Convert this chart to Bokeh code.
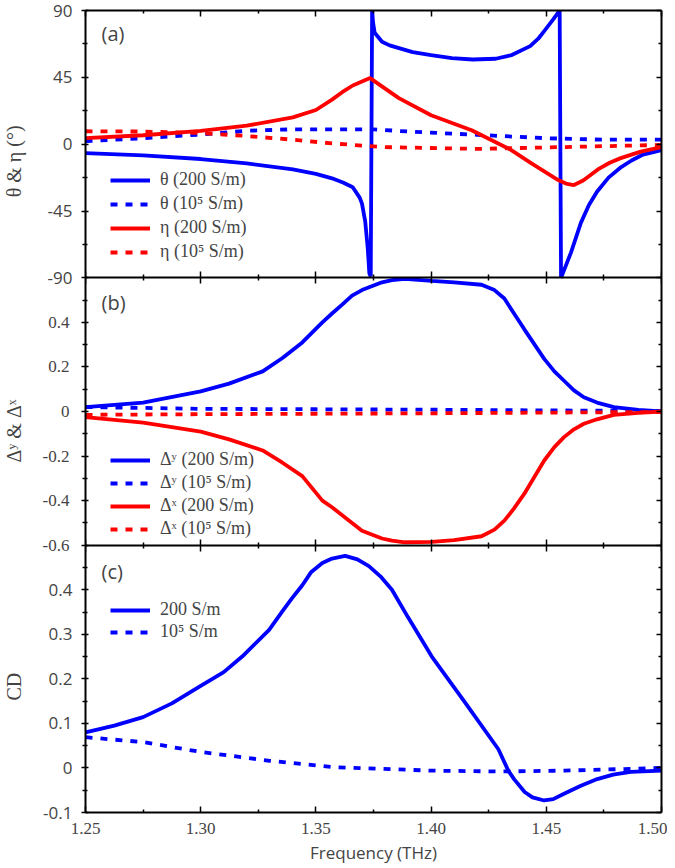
from bokeh.plotting import figure
from bokeh.models import (LinearAxis, FixedTicker, NumeralTickFormatter, Legend, LegendItem,
                          Label, Range1d, CustomJSTickFormatter)
from bokeh.embed import file_html
from bokeh.resources import INLINE

# ---------------- data ----------------
# panel (a): theta & eta (degrees)
theta200_f = [1.250, 1.275, 1.300, 1.320, 1.340, 1.350, 1.357, 1.362, 1.366, 1.369, 1.3700, 1.3714,
              1.3725, 1.3732, 1.3738, 1.3744, 1.3748, 1.3755, 1.3787, 1.382, 1.392, 1.400, 1.409,
              1.418, 1.428, 1.435, 1.443, 1.4465, 1.449, 1.451, 1.453, 1.4558, 1.4564, 1.4607,
              1.465, 1.4685, 1.472, 1.477, 1.482, 1.487, 1.492, 1.500]
theta200_v = [-6, -7.5, -10, -13, -17, -20, -23, -26, -29, -36, -40, -52,
              -70, -87, -89, 90, 82, 75, 69, 66.5, 62, 60, 58,
              57, 57.5, 60, 66, 71, 76, 80, 84, 90, -90, -73,
              -53, -41, -32, -22.5, -16, -11, -7, -4]
theta1e5_f = [1.25, 1.275, 1.30, 1.32, 1.34, 1.375, 1.39, 1.42, 1.45, 1.475, 1.50]
theta1e5_v = [2, 4, 6.5, 9, 10, 10, 8.5, 6.3, 4, 3, 3]
eta200_f = [1.250, 1.275, 1.300, 1.320, 1.340, 1.350, 1.357, 1.3614, 1.366, 1.3735, 1.386, 1.400,
            1.4176, 1.4348, 1.4434, 1.455, 1.4585, 1.462, 1.466, 1.4724, 1.4775, 1.4823, 1.491,
            1.500]
eta200_v = [4, 6, 9, 12.5, 18, 23, 30, 35, 39.5, 44.5, 31, 19.5,
            9.4, -4, -12.8, -24, -26.5, -27.5, -24.5, -17, -12.5, -9.4, -5,
            -2]
eta1e5_f = [1.25, 1.275, 1.30, 1.32, 1.34, 1.357, 1.38, 1.42, 1.456, 1.50]
eta1e5_v = [8.7, 8.5, 7.5, 5.5, 3, 0.5, -2, -3.2, -2, -0.5]

# panel (b): Delta^y & Delta^x
dy200_f = [1.25, 1.275, 1.30, 1.3123, 1.3269, 1.3355, 1.3441, 1.3528, 1.357, 1.3614, 1.3657, 1.370,
           1.3787, 1.383, 1.3886, 1.4003, 1.410, 1.4219, 1.4275, 1.4318, 1.436, 1.4404, 1.4491,
           1.4535, 1.4577, 1.462, 1.4663, 1.472, 1.4793, 1.490, 1.50]
dy200_v = [0.02, 0.04, 0.09, 0.125, 0.18, 0.24, 0.31, 0.40, 0.44, 0.48, 0.52, 0.545,
           0.58, 0.59, 0.595, 0.586, 0.58, 0.569, 0.545, 0.507, 0.44, 0.37, 0.236,
           0.18, 0.138, 0.095, 0.064, 0.04, 0.02, 0.007, 0.0]
dx200_f = [1.25, 1.275, 1.30, 1.3123, 1.3269, 1.3355, 1.3441, 1.3528, 1.357, 1.3657, 1.370, 1.3787,
           1.383, 1.3886, 1.4003, 1.410, 1.4219, 1.4275, 1.4318, 1.436, 1.4404, 1.4491, 1.4535,
           1.4577, 1.462, 1.4663, 1.472, 1.4793, 1.490, 1.50]
dx200_v = [-0.025, -0.05, -0.09, -0.125, -0.175, -0.23, -0.29, -0.40, -0.43, -0.50, -0.535, -0.57,
           -0.58, -0.587, -0.585, -0.577, -0.56, -0.53, -0.49, -0.435, -0.37, -0.22, -0.16,
           -0.115, -0.08, -0.055, -0.035, -0.015, -0.006, 0.0]
d1e5_f = [1.25, 1.30, 1.35, 1.40, 1.45, 1.50]
dy1e5_v = [0.02, 0.012, 0.01, 0.008, 0.005, 0.002]
dx1e5_v = [-0.015, -0.012, -0.01, -0.008, -0.005, -0.002]

# panel (c): CD
cd200_f = [1.25, 1.2625, 1.275, 1.2875, 1.30, 1.31, 1.318, 1.3297, 1.3355, 1.3395, 1.3441, 1.348,
           1.3528, 1.357, 1.3627, 1.368, 1.373, 1.378, 1.383, 1.390, 1.4003, 1.4147, 1.4292,
           1.4335, 1.436, 1.4406, 1.444, 1.4491, 1.453, 1.4577, 1.465, 1.4721, 1.479, 1.4866,
           1.50]
cd200_v = [0.08, 0.095, 0.114, 0.145, 0.184, 0.215, 0.25, 0.31, 0.352, 0.38, 0.41, 0.44,
           0.46, 0.47, 0.476, 0.468, 0.453, 0.43, 0.40, 0.338, 0.25, 0.147, 0.042,
           -0.006, -0.025, -0.054, -0.066, -0.073, -0.07, -0.058, -0.04, -0.025, -0.015, -0.009,
           -0.006]
cd1e5_f = [1.25, 1.275, 1.30, 1.33, 1.357, 1.40, 1.43, 1.458, 1.487, 1.50]
cd1e5_v = [0.069, 0.058, 0.036, 0.016, 0.002, -0.006, -0.008, -0.006, -0.002, 0.0]

# ticks and labels
x_ticks = [1.25, 1.30, 1.35, 1.40, 1.45, 1.50]
x_minor = [1.275, 1.325, 1.375, 1.425, 1.475]
a_ticks = [-90, -45, 0, 45, 90]
a_labels = ["-90", "-45", "0", "45", "90"]
a_minor = [-67.5, -22.5, 22.5, 67.5]
b_ticks = [-0.6, -0.4, -0.2, 0, 0.2, 0.4]
b_labels = ["-0.6", "-0.4", "-0.2", "0", "0.2", "0.4"]
b_minor = [-0.5, -0.3, -0.1, 0.1, 0.3, 0.5]
c_ticks = [-0.1, 0, 0.1, 0.2, 0.3, 0.4]
c_labels = ["-0.1", "0", "0.1", "0.2", "0.3", "0.4"]
c_minor = [-0.05, 0.05, 0.15, 0.25, 0.35, 0.45]
y_titles = ["θ & η (°)", "Δʸ & Δˣ", "CD"]
legend_a = ["θ (200 S/m)", "θ (10⁵ S/m)", "η (200 S/m)", "η (10⁵ S/m)"]
legend_b = ["Δʸ (200 S/m)", "Δʸ (10⁵ S/m)", "Δˣ (200 S/m)", "Δˣ (10⁵ S/m)"]
legend_c = ["200 S/m", "10⁵ S/m"]

# panel value ranges (top panel a, middle b, bottom c)
RANGE_A = (-90.0, 90.0)
RANGE_B = (-0.6, 0.6)
RANGE_C = (-0.1, 0.5)

BLUE = "#0000ff"
RED = "#ff0000"
LW = 3.8
DASH = "7 8"
SERIF = "Liberation Serif"
SANS = "Open Sans"

TOP, BOTTOM = 10, 53
HEIGHT = 866
FRAME_BOTTOM = HEIGHT - BOTTOM          # page y of the frame's bottom edge
PANEL_H = (HEIGHT - TOP - BOTTOM) / 3.0


def stretched(lo, hi, slot):
    """range that puts [lo, hi] into panel slot (0 bottom .. 2 top) of the 3-slot frame"""
    span = hi - lo
    return Range1d(lo - slot * span, hi + (2 - slot) * span)


def to_slot(v, rng, slot):
    return slot + (v - rng[0]) / (rng[1] - rng[0])


p = figure(width=667, height=HEIGHT, x_range=Range1d(1.25, 1.50), y_range=Range1d(0, 3),
           output_backend="svg", toolbar_location=None,
           x_axis_location=None, y_axis_location=None,
           min_border_left=82, min_border_right=6, min_border_top=TOP, min_border_bottom=BOTTOM)
p.grid.visible = False
p.outline_line_color = None
p.extra_y_ranges = {"a": stretched(*RANGE_A, 2), "b": stretched(*RANGE_B, 1),
                    "c": stretched(*RANGE_C, 0)}

# combined y tick positions in slot units
y_major, y_minor = [], []
ac_labels, b_only_labels = [], []
for ticks, labels, minor, rng, slot in [(a_ticks, a_labels, a_minor, RANGE_A, 2),
                                         (b_ticks, b_labels, b_minor, RANGE_B, 1),
                                         (c_ticks, c_labels, c_minor, RANGE_C, 0)]:
    y_major += [to_slot(v, rng, slot) for v in ticks]
    y_minor += [to_slot(v, rng, slot) for v in minor]
    if slot == 1:
        ac_labels += [""] * len(labels)
        b_only_labels += labels
    else:
        ac_labels += labels
        b_only_labels += [""] * len(labels)

lookup_code = """
let best = 0, bd = 1e9;
for (let i = 0; i < pos.length; i++) { const d = Math.abs(pos[i] - tick); if (d < bd) { bd = d; best = i; } }
return labs[best];
"""
empty_fmt = CustomJSTickFormatter(code="return ''")


def blank_axis(ticker, tin=6, tout=0, **kw):
    return LinearAxis(ticker=ticker, formatter=empty_fmt, major_label_text_font_size="1px",
                      major_label_standoff=0, major_tick_in=tin, major_tick_out=tout,
                      minor_tick_in=3, minor_tick_out=(3 if tout else 0), axis_line_width=2,
                      major_tick_line_width=1.5, minor_tick_line_width=1.5, **kw)


def xt():
    return FixedTicker(ticks=x_ticks, minor_ticks=x_minor)


# x axes: top, panel boundaries, bottom
p.add_layout(blank_axis(xt()), "above")
for b in [1, 2]:
    p.add_layout(blank_axis(xt(), tin=6, tout=6, fixed_location=b), "below")
bottom = LinearAxis(ticker=xt(), formatter=NumeralTickFormatter(format="0.00"),
                    axis_label="Frequency (THz)", axis_label_text_font=SANS,
                    axis_label_text_font_style="normal", axis_label_text_font_size="17px",
                    axis_label_standoff=4,
                    major_label_text_font=SERIF, major_label_text_font_size="17px",
                    major_label_standoff=10, major_tick_in=6, major_tick_out=0,
                    minor_tick_in=3, minor_tick_out=0, axis_line_width=2,
                    major_tick_line_width=1.5, minor_tick_line_width=1.5)
p.add_layout(bottom, "below")

# left axis: ticks of all panels, sans labels of panels (a) and (c)
left = LinearAxis(ticker=FixedTicker(ticks=y_major, minor_ticks=y_minor),
                  formatter=CustomJSTickFormatter(args=dict(pos=y_major, labs=ac_labels),
                                                  code=lookup_code),
                  major_label_text_font=SANS, major_label_text_font_size="17px",
                  major_label_standoff=9, major_tick_out=4, major_tick_in=3,
                  minor_tick_out=3, minor_tick_in=2, axis_line_width=2,
                  major_tick_line_width=1.5, minor_tick_line_width=1.5)
p.add_layout(left, "left")

# serif labels of panel (b), pulled back next to the frame
left_b = LinearAxis(ticker=FixedTicker(ticks=y_major, minor_ticks=[]),
                    formatter=CustomJSTickFormatter(args=dict(pos=y_major, labs=b_only_labels),
                                                    code=lookup_code),
                    major_label_text_font=SERIF, major_label_text_font_size="17px",
                    major_label_standoff=-29, major_tick_out=0, major_tick_in=0,
                    axis_line_color=None, major_tick_line_color=None,
                    minor_tick_line_color=None)
p.add_layout(left_b, "left")

# outer left "axis" whose labels are the three panel titles
title_page_y = [161, 431, 687]
title_pos = [(FRAME_BOTTOM - y) / PANEL_H for y in title_page_y]
titles = LinearAxis(ticker=FixedTicker(ticks=title_pos, minor_ticks=[]),
                    formatter=CustomJSTickFormatter(args=dict(pos=title_pos, labs=y_titles),
                                                    code=lookup_code),
                    major_label_text_font=SERIF, major_label_text_font_size="20px",
                    major_label_orientation="vertical", major_label_standoff=14,
                    axis_line_color=None, major_tick_line_color=None,
                    minor_tick_line_color=None, major_tick_out=0, major_tick_in=0)
p.add_layout(titles, "left")

p.add_layout(blank_axis(FixedTicker(ticks=y_major, minor_ticks=y_minor), tin=5, tout=0), "right")


def add_legend(labels, renderers, x, y, spacing):
    leg = Legend(items=[LegendItem(label=l, renderers=[r]) for l, r in zip(labels, renderers)],
                 location=(x, y), background_fill_alpha=0, border_line_color=None,
                 padding=0, margin=0, spacing=spacing, glyph_width=40, glyph_height=20,
                 label_height=20, label_standoff=10, label_text_font=SERIF,
                 label_text_font_size="18px")
    p.add_layout(leg)


def add_tag(text, page_y):
    p.add_layout(Label(x=16, y=FRAME_BOTTOM - page_y, x_units="screen", y_units="screen",
                       text=text, text_font=SANS, text_font_size="20px",
                       text_baseline="middle"))


# ---------------- panel (a) ----------------
r1 = p.line(theta200_f, theta200_v, color=BLUE, line_width=LW, y_range_name="a")
r2 = p.line(theta1e5_f, theta1e5_v, color=BLUE, line_width=LW, line_dash=DASH, y_range_name="a")
r3 = p.line(eta200_f, eta200_v, color=RED, line_width=LW, y_range_name="a")
r4 = p.line(eta1e5_f, eta1e5_v, color=RED, line_width=LW, line_dash=DASH, y_range_name="a")
add_legend(legend_a, [r1, r2, r3, r4], 25, FRAME_BOTTOM - 263, 3)
add_tag("(a)", 34)

# ---------------- panel (b) ----------------
s1 = p.line(dy200_f, dy200_v, color=BLUE, line_width=LW, y_range_name="b")
s2 = p.line(d1e5_f, dy1e5_v, color=BLUE, line_width=LW, line_dash=DASH, y_range_name="b")
s3 = p.line(dx200_f, dx200_v, color=RED, line_width=LW, y_range_name="b")
s4 = p.line(d1e5_f, dx1e5_v, color=RED, line_width=LW, line_dash=DASH, y_range_name="b")
add_legend(legend_b, [s1, s2, s3, s4], 25, FRAME_BOTTOM - 540, 2)
add_tag("(b)", 303)

# ---------------- panel (c) ----------------
t1 = p.line(cd200_f, cd200_v, color=BLUE, line_width=LW, y_range_name="c")
t2 = p.line(cd1e5_f, cd1e5_v, color=BLUE, line_width=LW, line_dash=DASH, y_range_name="c")
add_legend(legend_c, [t1, t2], 25, FRAME_BOTTOM - 643, 1)
add_tag("(c)", 572)

open("out.html", "w").write(file_html(p, INLINE))
